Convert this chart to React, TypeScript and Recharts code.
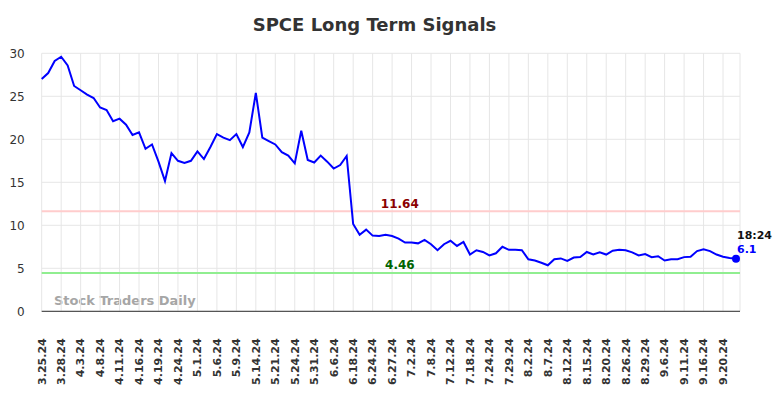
import { LineChart, Line, XAxis, YAxis, CartesianGrid, ReferenceLine } from "recharts";

const dates = [
	"3.25.24", "3.26.24", "3.27.24", "3.28.24", "4.1.24", "4.2.24", "4.3.24", "4.4.24", "4.5.24",
	"4.8.24", "4.9.24", "4.10.24", "4.11.24", "4.12.24", "4.15.24", "4.16.24", "4.17.24", "4.18.24",
	"4.19.24", "4.22.24", "4.23.24", "4.24.24", "4.25.24", "4.29.24", "5.1.24", "5.2.24", "5.3.24",
	"5.6.24", "5.7.24", "5.8.24", "5.9.24", "5.10.24", "5.13.24", "5.14.24", "5.16.24", "5.20.24",
	"5.21.24", "5.22.24", "5.23.24", "5.24.24", "5.28.24", "5.30.24", "5.31.24", "6.3.24", "6.5.24",
	"6.6.24", "6.7.24", "6.17.24", "6.18.24", "6.20.24", "6.21.24", "6.24.24", "6.25.24", "6.26.24",
	"6.27.24", "6.28.24", "7.1.24", "7.2.24", "7.3.24", "7.5.24", "7.8.24", "7.9.24", "7.11.24",
	"7.12.24", "7.16.24", "7.17.24", "7.18.24", "7.19.24", "7.23.24", "7.24.24", "7.25.24", "7.26.24",
	"7.29.24", "7.31.24", "8.1.24", "8.2.24", "8.5.24", "8.6.24", "8.7.24", "8.8.24", "8.9.24",
	"8.12.24", "8.13.24", "8.14.24", "8.15.24", "8.16.24", "8.19.24", "8.20.24", "8.22.24", "8.23.24",
	"8.26.24", "8.27.24", "8.28.24", "8.29.24", "9.3.24", "9.5.24", "9.6.24", "9.9.24", "9.10.24",
	"9.11.24", "9.12.24", "9.13.24", "9.16.24", "9.18.24", "9.19.24", "9.20.24", "9.23.24", "9.24.24",
];

const prices = [
	27.0, 27.7, 29.1, 29.6, 28.6, 26.2, 25.7, 25.2, 24.8,
	23.7, 23.4, 22.1, 22.4, 21.7, 20.5, 20.8, 18.9, 19.4,
	17.4, 15.15, 18.4, 17.5, 17.25, 17.5, 18.6, 17.7, 19.1,
	20.6, 20.2, 19.9, 20.6, 19.1, 20.8, 25.4, 20.2, 19.8,
	19.4, 18.5, 18.1, 17.2, 21.0, 17.6, 17.3, 18.1, 17.4,
	16.6, 17.0, 18.06, 10.15, 8.9, 9.5, 8.8, 8.75, 8.9,
	8.75, 8.45, 8.0, 8.0, 7.9, 8.3, 7.8, 7.1, 7.8,
	8.2, 7.6, 8.06, 6.6, 7.1, 6.9, 6.5, 6.75, 7.5,
	7.15, 7.15, 7.1, 6.05, 5.9, 5.65, 5.35, 6.05, 6.15,
	5.85, 6.25, 6.3, 6.9, 6.6, 6.85, 6.6, 7.05, 7.15,
	7.1, 6.85, 6.5, 6.65, 6.3, 6.4, 5.9, 6.05, 6.05,
	6.3, 6.35, 7.0, 7.2, 7.0, 6.6, 6.35, 6.2, 6.1,
];

const yTicks = [0, 5, 10, 15, 20, 25, 30];
const upperSignal = 11.64;
const lowerSignal = 4.46;
const lastTime = "18:24";

const rows = dates.map((d, i) => ({ date: d, price: prices[i] }));
const lastIndex = rows.length - 1;

const font = "'DejaVu Sans', sans-serif";

function DateTick(props: any) {
	const { x, y, payload } = props;
	return (
		<text
			x={x}
			y={y + 19}
			dy="0.35em"
			transform={`rotate(-90, ${x}, ${y + 19})`}
			textAnchor="end"
			fontFamily={font}
			fontSize={11}
			fontWeight="bold"
			fill="#333"
		>
			{payload.value}
		</text>
	);
}

function SignalLabel(props: any) {
	const { viewBox, text, color } = props;
	if (!viewBox) return null;
	return (
		<text
			x={viewBox.x + viewBox.width / 2 + 9}
			y={viewBox.y - 3.5}
			textAnchor="middle"
			fontFamily={font}
			fontSize={12}
			fontWeight="bold"
			fill={color}
		>
			{text}
		</text>
	);
}

function LastDot(props: any) {
	const { cx, cy, index } = props;
	if (index !== lastIndex) return <g key={`d${index}`} />;
	return <circle key={`d${index}`} cx={cx} cy={cy} r={4} fill="#0000ff" />;
}

function LastLabel(props: any) {
	const { x, y, index, value } = props;
	if (index !== lastIndex) return <g key={`l${index}`} />;
	return (
		<g key={`l${index}`} fontFamily={font} fontWeight="bold" fontSize={11}>
			<text x={x + 1} y={y - 20} fill="#111">
				{lastTime}
			</text>
			<text x={x + 1} y={y - 6} fill="#0000ff">
				{value}
			</text>
		</g>
	);
}

export default function App() {
	return (
		<div style={{ position: "relative", width: 784, height: 398, background: "#fff" }}>
			<style>{"body{margin:0}"}</style>
			<div
				style={{
					position: "absolute",
					left: 0,
					width: 749,
					top: 14,
					textAlign: "center",
					fontFamily: font,
					fontWeight: "bold",
					fontSize: 18,
					color: "#333",
				}}
			>
				SPCE Long Term Signals
			</div>
			<div
				style={{
					position: "absolute",
					left: 54,
					top: 293,
					fontFamily: font,
					fontWeight: "bold",
					fontSize: 13,
					color: "#a6a6a6",
				}}
			>
				Stock Traders Daily
			</div>
			<LineChart
				width={784}
				height={398}
				data={rows}
				margin={{ top: 53.3, right: 44, bottom: 0, left: 0 }}
			>
				<CartesianGrid stroke="#e6e6e6" strokeWidth={1} />
				<XAxis
					dataKey="date"
					interval={2}
					height={86.7}
					tickLine={false}
					axisLine={{ stroke: "#555", strokeWidth: 1.2 }}
					padding={{ left: 0, right: 4 }}
					tick={<DateTick />}
				/>
				<YAxis
					domain={[0, 30]}
					ticks={yTicks}
					width={41.7}
					axisLine={false}
					tickLine={false}
					tickSize={0}
					tickMargin={17}
					tick={{ fontFamily: font, fontSize: 12, fill: "#333" }}
				/>
				<ReferenceLine
					y={upperSignal}
					stroke="#ffcccc"
					strokeWidth={2}
					label={<SignalLabel text={String(upperSignal)} color="#8b0000" />}
				/>
				<ReferenceLine
					y={lowerSignal}
					stroke="#90ee90"
					strokeWidth={2}
					label={<SignalLabel text={String(lowerSignal)} color="#006400" />}
				/>
				<Line
					type="linear"
					dataKey="price"
					stroke="#0000ff"
					strokeWidth={2}
					dot={LastDot}
					activeDot={false}
					label={LastLabel}
					isAnimationActive={false}
				/>
			</LineChart>
		</div>
	);
}
